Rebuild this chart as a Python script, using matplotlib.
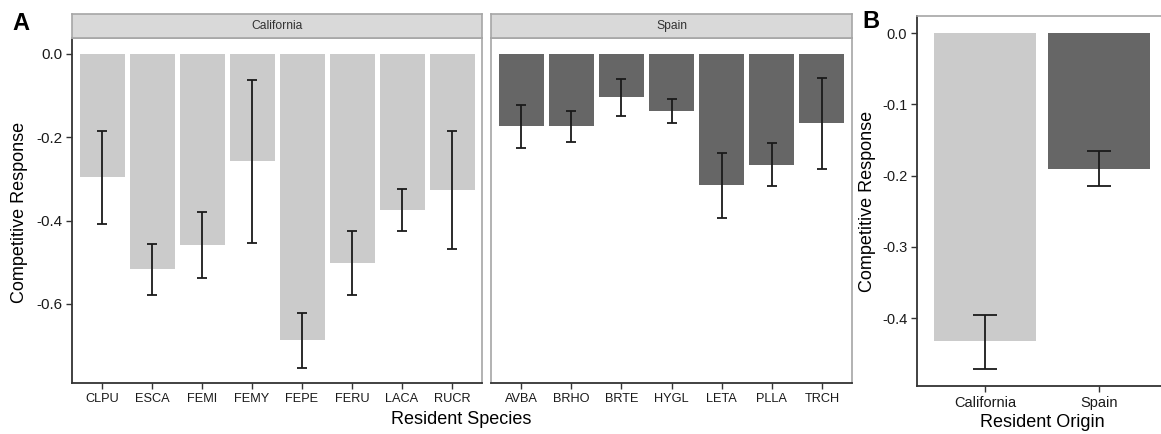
import numpy as np
import matplotlib
matplotlib.use("Agg")
import matplotlib.pyplot as plt

plt.rcParams['font.family'] = ['Liberation Sans', 'DejaVu Sans']

# Panel A data: mean competitive response and error bar limits
ca_species = ['CLPU', 'ESCA', 'FEMI', 'FEMY', 'FEPE', 'FERU', 'LACA', 'RUCR']
ca_mean = [-0.296, -0.517, -0.458, -0.258, -0.687, -0.501, -0.375, -0.326]
ca_hi = [-0.184, -0.457, -0.379, -0.062, -0.621, -0.425, -0.325, -0.185]
ca_lo = [-0.408, -0.579, -0.539, -0.454, -0.753, -0.578, -0.426, -0.468]

sp_species = ['AVBA', 'BRHO', 'BRTE', 'HYGL', 'LETA', 'PLLA', 'TRCH']
sp_mean = [-0.174, -0.174, -0.103, -0.136, -0.314, -0.266, -0.166]
sp_hi = [-0.122, -0.138, -0.060, -0.108, -0.237, -0.213, -0.058]
sp_lo = [-0.227, -0.212, -0.148, -0.165, -0.393, -0.318, -0.277]

# Panel B data
origins = ['California', 'Spain']
or_mean = [-0.432, -0.191]
or_hi = [-0.396, -0.166]
or_lo = [-0.471, -0.215]

light = '#cbcbcb'
dark = '#666666'
border = '#a6a6a6'
axcol = '#333333'

W, H = 1161, 434
fig = plt.figure(figsize=(W / 100, H / 100), dpi=100)


def box(x0, y0, x1, y1):
    # pixel box (top-left origin) -> figure fraction rect
    return [x0 / W, 1 - y1 / H, (x1 - x0) / W, (y1 - y0) / H]


def facet(rect, strip_rect, names, means, hi, lo, color, label, left_dark):
    ax = fig.add_axes(rect)
    x = np.arange(1, len(names) + 1)
    m = np.array(means)
    err = [m - np.array(lo), np.array(hi) - m]
    ax.bar(x, m, width=0.9, color=color, zorder=2)
    ax.errorbar(x, m, yerr=np.abs(err), fmt='none', ecolor='#1a1a1a',
                elinewidth=1.3, capsize=3.6, capthick=1.3, zorder=3)
    ax.set_xlim(0.4, len(names) + 0.6)
    ax.set_ylim(-0.79, 0.038)
    ax.set_xticks(x)
    ax.set_xticklabels(names, fontsize=9.2, color='#1a1a1a')
    for s in ['top', 'right', 'left']:
        ax.spines[s].set_color(border)
        ax.spines[s].set_linewidth(1.2)
    ax.spines['bottom'].set_color(axcol)
    ax.spines['bottom'].set_linewidth(1.3)
    if left_dark:
        ax.spines['left'].set_color(axcol)
        ax.spines['left'].set_linewidth(1.3)
        ax.set_yticks([0.0, -0.2, -0.4, -0.6])
        ax.set_yticklabels(['0.0', '-0.2', '-0.4', '-0.6'], fontsize=11,
                           color='#1a1a1a')
    else:
        ax.set_yticks([])
    ax.tick_params(length=4, width=1, color=axcol, pad=3)
    # strip
    sax = fig.add_axes(strip_rect)
    sax.set_facecolor('#d9d9d9')
    sax.set_xticks([])
    sax.set_yticks([])
    for s in sax.spines.values():
        s.set_color(border)
        s.set_linewidth(1.2)
    sax.text(0.5, 0.5, label, ha='center', va='center', fontsize=8.7,
             color='#333333', transform=sax.transAxes)
    return ax


facet(box(72, 38, 482, 383), box(72, 14, 482, 38), ca_species, ca_mean,
      ca_hi, ca_lo, light, 'California', True)
facet(box(491, 38, 852, 383), box(491, 14, 852, 38), sp_species, sp_mean,
      sp_hi, sp_lo, dark, 'Spain', False)

fig.text(461 / W, 1 - 420 / H, 'Resident Species', ha='center', va='center',
         fontsize=13)
fig.text(20 / W, 1 - 212 / H, 'Competitive Response', ha='center',
         va='center', rotation=90, fontsize=13)
fig.text(12 / W, 1 - 24 / H, 'A', ha='left', va='center', fontsize=17,
         fontweight='bold')

# Panel B
axb = fig.add_axes(box(917, 16, 1167, 386))
xb = np.arange(1, 3)
mb = np.array(or_mean)
errb = [mb - np.array(or_lo), np.array(or_hi) - mb]
axb.bar(xb, mb, width=0.9, color=[light, dark], zorder=2)
axb.errorbar(xb, mb, yerr=np.abs(errb), fmt='none', ecolor='#1a1a1a',
             elinewidth=1.3, capsize=8.3, capthick=1.3, zorder=3)
axb.set_xlim(0.4, 2.6)
axb.set_ylim(-0.495, 0.024)
axb.set_xticks(xb)
axb.set_xticklabels(origins, fontsize=10.5, color='#1a1a1a')
axb.set_yticks([0.0, -0.1, -0.2, -0.3, -0.4])
axb.set_yticklabels(['0.0', '-0.1', '-0.2', '-0.3', '-0.4'], fontsize=10.5,
                    color='#1a1a1a')
for s in ['top', 'right']:
    axb.spines[s].set_color(border)
    axb.spines[s].set_linewidth(1.2)
for s in ['left', 'bottom']:
    axb.spines[s].set_color(axcol)
    axb.spines[s].set_linewidth(1.3)
axb.tick_params(length=4, width=1, color=axcol, pad=3)
axb.set_xlabel('Resident Origin', fontsize=13, labelpad=3)
axb.set_ylabel('Competitive Response', fontsize=13, labelpad=4)
fig.text(862 / W, 1 - 21 / H, 'B', ha='left', va='center', fontsize=17,
         fontweight='bold')

fig.savefig('out.png', dpi=100)
